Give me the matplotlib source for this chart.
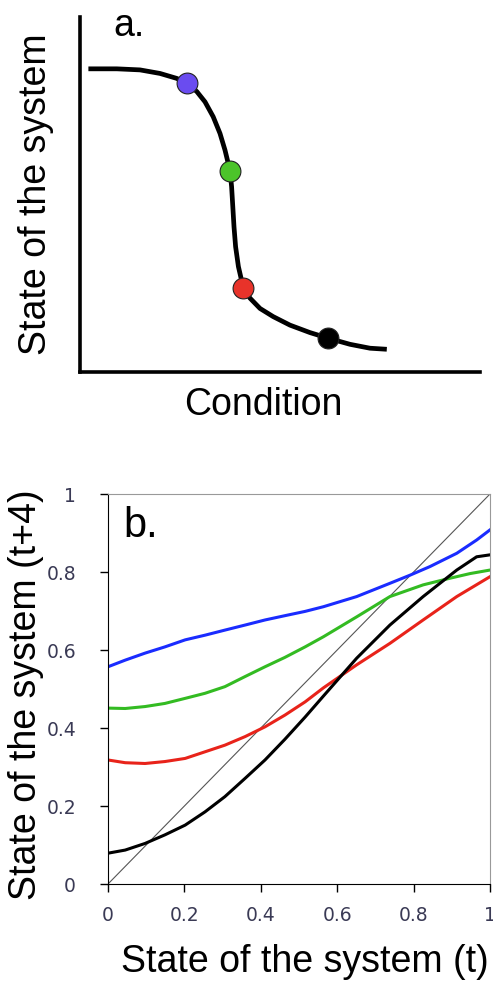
import matplotlib.pyplot as plt

# panel a: sketch of the response curve (axes fraction units)
CURVE_X = [0.021, 0.092, 0.15, 0.2, 0.242, 0.267, 0.292, 0.3125, 0.333, 0.35, 0.3625, 0.375,
           0.379, 0.382, 0.385, 0.389, 0.396, 0.408, 0.425, 0.45, 0.483, 0.525, 0.575, 0.621,
           0.675, 0.725, 0.767]
CURVE_Y = [0.854, 0.854, 0.851, 0.841, 0.827, 0.813, 0.79, 0.761, 0.719, 0.672, 0.625, 0.567,
           0.522, 0.466, 0.409, 0.353, 0.297, 0.238, 0.208, 0.179, 0.156, 0.132, 0.111, 0.095,
           0.078, 0.067, 0.064]
DOT_X = [0.267, 0.375, 0.408, 0.621]
DOT_Y = [0.813, 0.567, 0.238, 0.095]
DOT_COLORS = ['#6a4cf0', '#4cc42a', '#e8332a', '#000000']

# panel b: state at t+4 vs state at t
BLUE_X = [0.0, 0.045, 0.097, 0.149, 0.202, 0.254, 0.306, 0.359, 0.411, 0.463, 0.516, 0.564,
          0.651, 0.738, 0.791, 0.843, 0.913, 0.965, 1.0]
BLUE_Y = [0.557, 0.574, 0.592, 0.608, 0.626, 0.638, 0.651, 0.664, 0.677, 0.688, 0.699, 0.711,
          0.737, 0.771, 0.792, 0.814, 0.848, 0.882, 0.908]
GREEN_X = [0.0, 0.045, 0.097, 0.149, 0.202, 0.254, 0.306, 0.359, 0.411, 0.463, 0.516, 0.564,
           0.651, 0.738, 0.825, 0.895, 0.948, 1.0]
GREEN_Y = [0.451, 0.45, 0.455, 0.463, 0.476, 0.489, 0.506, 0.532, 0.557, 0.581, 0.608, 0.634,
           0.685, 0.737, 0.767, 0.784, 0.796, 0.805]
RED_X = [0.0, 0.045, 0.097, 0.149, 0.202, 0.254, 0.306, 0.359, 0.411, 0.463, 0.516, 0.564,
         0.651, 0.738, 0.825, 0.913, 1.0]
RED_Y = [0.318, 0.311, 0.309, 0.314, 0.322, 0.339, 0.356, 0.378, 0.403, 0.433, 0.467, 0.503,
         0.562, 0.617, 0.677, 0.737, 0.788]
BLACK_X = [0.0, 0.045, 0.097, 0.149, 0.202, 0.254, 0.306, 0.359, 0.411, 0.463, 0.516, 0.564,
           0.651, 0.738, 0.825, 0.913, 0.965, 1.0]
BLACK_Y = [0.079, 0.087, 0.104, 0.126, 0.151, 0.185, 0.224, 0.271, 0.318, 0.371, 0.428, 0.482,
           0.579, 0.664, 0.737, 0.805, 0.839, 0.844]
LINE_COLORS = ['#1a2cff', '#33bb22', '#e8231a', '#000000']
TICKS = [0, 0.2, 0.4, 0.6, 0.8, 1]
TICK_LABELS = ['0', '0.2', '0.4', '0.6', '0.8', '1']

plt.rcParams['font.family'] = ['Liberation Sans', 'DejaVu Sans']

fig = plt.figure(figsize=(4.93, 9.9), dpi=100)

# ---- panel a
ax_a = fig.add_axes([80 / 493, 1 - 372 / 990, 400 / 493, 355 / 990])
ax_a.plot(CURVE_X, CURVE_Y, color='black', lw=3.4, solid_capstyle='butt',
          solid_joinstyle='round')
for x, y, c in zip(DOT_X, DOT_Y, DOT_COLORS):
    ax_a.plot(x, y, 'o', ms=15, color=c, mec='#222222', mew=0.8)
ax_a.set_xlim(0, 1)
ax_a.set_ylim(0, 1)
for side in ['top', 'right']:
    ax_a.spines[side].set_visible(False)
for side in ['left', 'bottom']:
    ax_a.spines[side].set_linewidth(2.6)
ax_a.set_xticks([])
ax_a.set_yticks([])
ax_a.set_xlabel('Condition', fontsize=27, va='center')
ax_a.set_ylabel('State of the system', fontsize=27, va='center')
ax_a.xaxis.set_label_coords(0.458, -0.093)
ax_a.yaxis.set_label_coords(-0.11, 0.5)
ax_a.text(0.0825, 0.975, 'a.', fontsize=27, transform=ax_a.transAxes, va='center')

# ---- panel b
ax_b = fig.add_axes([108 / 493, 1 - 884 / 990, 382 / 493, 390 / 990])
ax_b.plot([0, 1], [0, 1], color='#555555', lw=0.8)
for xs, ys, c in zip([BLUE_X, GREEN_X, RED_X, BLACK_X], [BLUE_Y, GREEN_Y, RED_Y, BLACK_Y],
                     LINE_COLORS):
    ax_b.plot(xs, ys, color=c, lw=2.2, solid_joinstyle='round')
ax_b.set_xlim(0, 1)
ax_b.set_ylim(0, 1)
ax_b.set_xticks(TICKS)
ax_b.set_xticklabels(TICK_LABELS, family='DejaVu Sans')
ax_b.set_yticks(TICKS)
ax_b.set_yticklabels(TICK_LABELS, family='DejaVu Sans')
ax_b.tick_params(length=6, width=1, labelsize=13.5, labelcolor='#3a3a55')
ax_b.tick_params(axis='x', pad=10)
ax_b.tick_params(axis='y', pad=17)
for side in ['top', 'right']:
    ax_b.spines[side].set_color('#999999')
for side in ['left', 'bottom']:
    ax_b.spines[side].set_color('black')
ax_b.set_xlabel('State of the system (t)', fontsize=27, va='center')
ax_b.set_ylabel('State of the system (t+4)', fontsize=27, va='center')
ax_b.xaxis.set_label_coords(0.516, -0.2)
ax_b.yaxis.set_label_coords(-0.215, 0.485)
ax_b.text(0.04, 0.918, 'b.', fontsize=30, transform=ax_b.transAxes, va='center')

plt.savefig('out.png', dpi=100)
